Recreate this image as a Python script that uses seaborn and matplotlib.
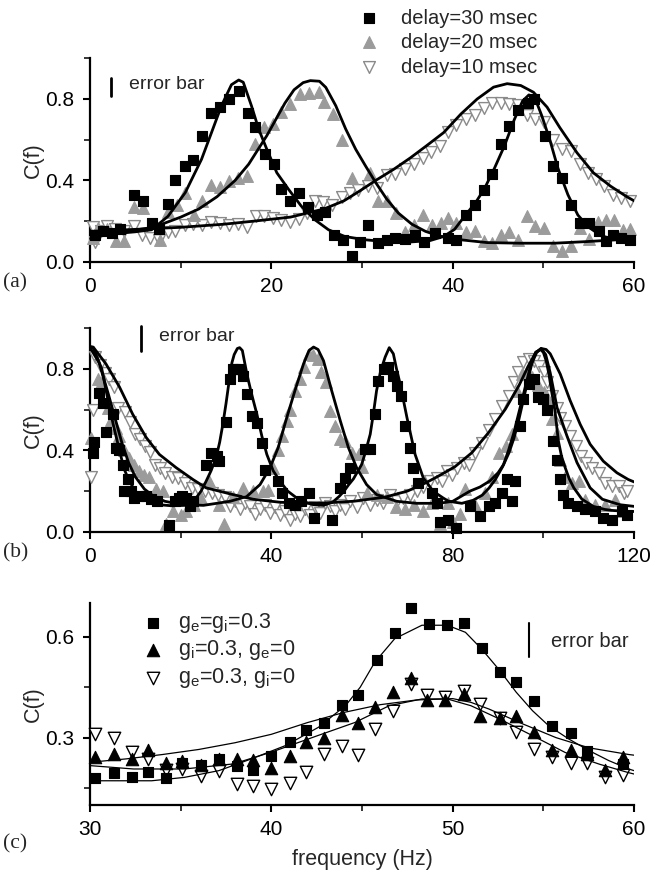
import matplotlib
matplotlib.use("Agg")
import matplotlib.pyplot as plt
import seaborn as sns
from matplotlib.ticker import MultipleLocator, FixedLocator

sns.set_theme(style="white")
plt.rcParams['font.family'] = ['Liberation Sans', 'DejaVu Sans']
plt.rcParams['mathtext.default'] = 'regular'

# ---------------- Panel (a) ----------------
a30_f = [0.5, 1.4, 2.4, 3.3, 4.8, 5.8, 6.8, 7.6, 8.6, 9.4, 10.5, 11.4, 12.4, 13.3, 14.3, 15.3, 16.4,
         17.4, 18.2, 19.3, 20.3, 21.1, 22.1, 23.1, 24.0, 25.0, 25.9, 26.9, 27.9, 28.9, 29.8, 30.7,
         31.8, 32.7, 33.6, 34.7, 35.8, 36.8, 38.0, 39.5, 40.4, 41.5, 42.5, 43.4, 44.3, 45.3, 46.2,
         47.2, 48.3, 49.0, 50.2, 51.1, 52.1, 53.0, 54.0, 55.0, 56.1, 56.9, 57.7, 58.6, 59.5]
a30_c = [0.13, 0.15, 0.14, 0.16, 0.33, 0.30, 0.19, 0.16, 0.285, 0.40, 0.47, 0.50, 0.62, 0.73, 0.76, 0.80, 0.84,
         0.73, 0.66, 0.53, 0.48, 0.36, 0.30, 0.34, 0.27, 0.23, 0.245, 0.13, 0.11, 0.03, 0.10, 0.18,
         0.095, 0.11, 0.12, 0.115, 0.13, 0.10, 0.14, 0.12, 0.11, 0.23, 0.28, 0.355, 0.43, 0.58, 0.665,
         0.745, 0.78, 0.80, 0.62, 0.47, 0.41, 0.28, 0.19, 0.19, 0.15, 0.105, 0.13, 0.12, 0.11]

a20_f = [0.3, 0.9, 1.9, 2.9, 3.8, 4.8, 5.8, 7.7, 8.6, 9.6, 10.5, 11.5, 12.4, 13.3, 14.3, 15.3, 16.3,
         17.3, 18.2, 19.2, 20.2, 21.1, 22.1, 23.2, 24.1, 25.2, 25.8, 26.8, 27.8, 28.9, 30.9, 31.8,
         32.7, 33.7, 34.7, 35.7, 36.7, 37.7, 38.7, 39.5, 40.4, 41.5, 42.5, 43.4, 44.3, 45.3, 46.2,
         47.2, 48.2, 49.1, 50.1, 51.1, 52.1, 53.0, 54.0, 55.0, 56.0, 56.9, 57.8, 58.8, 59.6]
a20_c = [0.12, 0.166, 0.16, 0.105, 0.105, 0.27, 0.265, 0.11, 0.243, 0.28, 0.336, 0.232, 0.30, 0.38, 0.37, 0.397, 0.41,
         0.42, 0.578, 0.663, 0.675, 0.734, 0.775, 0.825, 0.83, 0.835, 0.783, 0.726, 0.60, 0.413, 0.438, 0.298,
         0.30, 0.24, 0.145, 0.183, 0.229, 0.18, 0.19, 0.215, 0.19, 0.145, 0.15, 0.105, 0.092, 0.133, 0.145,
         0.11, 0.224, 0.175, 0.165, 0.076, 0.054, 0.076, 0.165, 0.115, 0.197, 0.205, 0.205, 0.158, 0.16]

a10_f = [0.3, 0.5, 1.2, 1.9, 2.8, 3.8, 4.8, 5.7, 6.6, 7.6, 8.6, 9.4, 10.5, 11.4, 12.4, 13.3, 14.3, 15.3,
         16.3, 17.3, 18.3, 19.2, 20.2, 21.1, 22.0, 23.0, 23.9, 24.8, 25.7, 26.7, 27.8, 28.7, 29.6, 30.7,
         31.7, 32.7, 33.6, 34.7, 35.7, 36.7, 37.6, 38.6, 39.5, 40.4, 41.5, 42.5, 43.4, 44.3, 45.3, 46.2,
         47.2, 48.2, 49.1, 50.1, 51.1, 52.1, 53.0, 54.0, 54.9, 55.8, 56.7, 57.7, 58.6, 59.5]
a10_c = [0.17, 0.10, 0.15, 0.175, 0.16, 0.15, 0.175, 0.13, 0.12, 0.11, 0.145, 0.15, 0.18, 0.185, 0.18, 0.196, 0.19, 0.18,
         0.185, 0.17, 0.225, 0.225, 0.215, 0.207, 0.198, 0.21, 0.238, 0.298, 0.295, 0.278, 0.32, 0.336, 0.352, 0.375,
         0.363, 0.428, 0.43, 0.454, 0.479, 0.51, 0.54, 0.57, 0.64, 0.67, 0.70, 0.72, 0.755, 0.78, 0.78, 0.777,
         0.77, 0.72, 0.70, 0.685, 0.60, 0.553, 0.545, 0.48, 0.438, 0.405, 0.372, 0.33, 0.315, 0.30]

fa30_f = [0, 3, 5, 6.8, 8.6, 10.5, 12.3, 13.4, 14.5, 15.6, 16.4, 16.9, 17.8, 18.6, 19.5, 20.6, 21.9, 23.3,
          24.8, 26.3, 28.1, 30.3, 32.5, 35, 37.5, 39.0, 40.2, 41.4, 42.5, 43.5, 44.6, 45.7, 46.8, 47.7,
          48.4, 49.1, 49.8, 50.7, 51.6, 52.7, 53.8, 55.0, 56.4, 57.9, 60]
fa30_c = [0.13, 0.14, 0.148, 0.158, 0.224, 0.34, 0.504, 0.635, 0.767, 0.87, 0.893, 0.882, 0.767, 0.652, 0.553, 0.438, 0.356, 0.274,
          0.207, 0.158, 0.125, 0.109, 0.10, 0.097, 0.105, 0.125, 0.16, 0.23, 0.29, 0.36, 0.46, 0.57, 0.70, 0.79,
          0.82, 0.80, 0.72, 0.60, 0.46, 0.33, 0.23, 0.17, 0.128, 0.11, 0.10]

fa20_f = [0, 4, 7, 10, 12, 14, 16, 17.5, 18.5, 19.5, 20.5, 21.5, 22.5, 23.5, 24.3, 25.3, 26.0, 27.1, 28.2,
          29.3, 30.4, 31.5, 32.7, 34.0, 35.5, 37.0, 38.5, 40.2, 43.8, 47.5, 51.2, 54.8, 58.5, 60]
fa20_c = [0.13, 0.15, 0.17, 0.22, 0.26, 0.32, 0.40, 0.48, 0.55, 0.62, 0.70, 0.78, 0.845, 0.88, 0.89, 0.887, 0.857, 0.767, 0.652,
          0.553, 0.47, 0.39, 0.31, 0.24, 0.185, 0.15, 0.128, 0.112, 0.095, 0.092, 0.092, 0.10, 0.11, 0.115]

fa10_f = [0, 5, 10, 14.7, 18, 22.1, 25.8, 28, 29.8, 31.5, 33.5, 35.3, 37.1, 39.0, 40.9, 42.7, 44.5, 46.0,
          47.5, 48.9, 50.4, 51.8, 53.7, 55.5, 57.4, 59.2, 60]
fa10_c = [0.15, 0.16, 0.17, 0.185, 0.20, 0.22, 0.26, 0.30, 0.35, 0.40, 0.455, 0.51, 0.57, 0.635, 0.726, 0.80, 0.858, 0.875,
          0.866, 0.833, 0.76, 0.66, 0.536, 0.438, 0.372, 0.32, 0.30]

legend_a = ['delay=30 msec', 'delay=20 msec', 'delay=10 msec']

# ---------------- Panel (b) ----------------
b30_f = [0.7, 0.9, 1.9, 2.8, 3.5, 5.0, 5.7, 6.4, 7.2, 8.3, 7.6, 9.0, 9.8, 10.8, 12.3, 13.5, 14.8, 17.4,
         18.8, 19.7, 20.2, 21.2, 22.0, 22.7, 25.6, 26.7, 28.1, 28.5, 30.0, 30.9, 31.5, 32.0, 33.1,
         33.8, 34.6, 35.7, 36.8, 37.9, 38.6, 41.5, 42.3, 43.9, 45.2, 46.5, 48.2, 49.3, 53.4, 55.2,
         56.3, 57.4, 60.7, 61.8, 62.9, 63.6, 64.8, 65.8, 66.9, 67.6, 68.5, 69.5, 70.6, 71.3, 72.4,
         75.4, 76.6, 77.1, 79.0, 80.8, 83.8, 86.0, 87.9, 89.4, 90.8, 92.0, 93.0, 93.8, 94.9, 95.6,
         96.8, 97.9, 98.8, 100.0, 100.7, 102.2, 103.0, 103.7, 104.4, 105.5, 107.3, 109.2, 111.4,
         113.2, 115.1, 117.3, 118.4]
b30_c = [0.389, 0.44, 0.68, 0.63, 0.49, 0.58, 0.41, 0.40, 0.33, 0.257, 0.20, 0.20, 0.166, 0.175, 0.175, 0.16, 0.15, 0.035,
         0.15, 0.166, 0.175, 0.166, 0.125, 0.15, 0.33, 0.389, 0.37, 0.35, 0.537, 0.75, 0.80, 0.80, 0.80,
         0.767, 0.677, 0.57, 0.535, 0.438, 0.306, 0.248, 0.19, 0.14, 0.13, 0.15, 0.19, 0.068, 0.06, 0.216,
         0.265, 0.315, 0.405, 0.405, 0.578, 0.742, 0.80, 0.81, 0.767, 0.717, 0.668, 0.52, 0.413, 0.315, 0.24,
         0.19, 0.14, 0.05, 0.058, 0.018, 0.125, 0.076, 0.125, 0.14, 0.19, 0.257, 0.15, 0.248, 0.52, 0.65,
         0.726, 0.75, 0.66, 0.65, 0.60, 0.446, 0.355, 0.257, 0.183, 0.14, 0.125, 0.11, 0.10,
         0.068, 0.06, 0.10, 0.085]

b20_f = [0.2, 1.7, 2.4, 3.9, 4.6, 5.7, 6.4, 7.5, 8.6, 9.8, 10.8, 11.9, 13.0, 14.5, 16.0, 16.8, 18.2,
         20.0, 21.2, 23.0, 24.5, 26.3, 28.5, 29.5, 31.5, 33.8, 36.0, 38.2, 39.3, 40.4, 41.5, 42.3,
         43.4, 44.1, 45.2, 46.3, 47.2, 48.2, 49.1, 50.2, 50.9, 52.1, 53.0, 54.1, 55.2, 56.3, 57.8,
         59.3, 60.0, 61.2, 63.4, 65.6, 67.5, 69.5, 71.5, 73.5, 75.5, 77.2, 79.0, 80.1, 81.6, 82.8,
         85.0, 87.2, 88.7, 90.2, 91.7, 93.1, 94.2, 95.3, 96.4, 97.5, 98.7, 100.1, 101.2, 101.9,
         103.0, 103.7, 104.8, 106.3, 107.8, 109.2, 111.4, 113.6, 115.8, 117.3]
b20_c = [0.463, 0.75, 0.73, 0.61, 0.55, 0.51, 0.47, 0.40, 0.36, 0.33, 0.30, 0.28, 0.27, 0.21, 0.20, 0.04, 0.10,
         0.083, 0.10, 0.13, 0.166, 0.248, 0.133, 0.04, 0.17, 0.216, 0.20, 0.20, 0.207, 0.315, 0.40, 0.47,
         0.545, 0.60, 0.69, 0.75, 0.81, 0.875, 0.866, 0.85, 0.784, 0.734, 0.595, 0.52, 0.454, 0.446, 0.388,
         0.38, 0.32, 0.19, 0.18, 0.17, 0.12, 0.11, 0.13, 0.10, 0.14, 0.04, 0.14, 0.05, 0.09, 0.21,
         0.13, 0.19, 0.27, 0.388, 0.42, 0.48, 0.69, 0.775, 0.79, 0.76, 0.72, 0.686, 0.636, 0.553,
         0.487, 0.355, 0.27, 0.24, 0.25, 0.157, 0.13, 0.13, 0.157, 0.10]

b10_f = [0.2, 0.6, 1.2, 2.1, 3.2, 4.3, 5.4, 6.2, 7.7, 8.8, 9.9, 11.0, 12.1, 13.2, 14.3, 15.4, 16.6, 18.0,
         19.5, 21.0, 22.4, 23.9, 25.4, 26.9, 28.3, 29.8, 30.9, 32.0, 33.1, 34.2, 35.3, 36.4, 37.5, 38.6,
         39.7, 40.8, 41.9, 43.0, 44.1, 45.2, 46.3, 47.4, 48.5, 49.6, 50.7, 51.8, 52.9, 54.0, 55.2, 56.3,
         57.4, 58.8, 60.3, 61.7, 63.2, 64.7, 66.2, 67.6, 69.1, 70.6, 72.1, 73.5, 75.0, 76.5, 77.6, 78.7,
         79.8, 80.9, 82.4, 83.6, 84.9, 86.4, 87.9, 89.4, 90.8, 92.3, 93.4, 94.5, 95.6, 96.8, 97.9, 99.0,
         100.1, 100.8, 101.9, 103.0, 103.7, 104.8, 105.9, 107.1, 108.2, 109.3, 110.7, 112.2, 113.6,
         115.1, 116.6, 117.7, 118.5]
b10_c = [0.27, 0.60, 0.86, 0.82, 0.78, 0.75, 0.71, 0.61, 0.59, 0.54, 0.48, 0.455, 0.42, 0.39, 0.33, 0.315, 0.29, 0.27,
         0.265, 0.24, 0.215, 0.21, 0.20, 0.19, 0.18, 0.17, 0.125, 0.15, 0.11, 0.14, 0.125, 0.09, 0.11, 0.13,
         0.094, 0.12, 0.085, 0.10, 0.06, 0.09, 0.077, 0.11, 0.085, 0.12, 0.094, 0.14, 0.125, 0.10, 0.133, 0.11,
         0.15, 0.12, 0.166, 0.13, 0.158, 0.14, 0.183, 0.15, 0.166, 0.18, 0.20, 0.22, 0.248, 0.265, 0.25, 0.30,
         0.28, 0.315, 0.34, 0.33, 0.389, 0.438, 0.50, 0.553, 0.62, 0.668, 0.734, 0.784, 0.833, 0.85, 0.84, 0.816,
         0.784, 0.734, 0.668, 0.61, 0.56, 0.52, 0.47, 0.42, 0.372, 0.34, 0.315, 0.29, 0.24,
         0.224, 0.224, 0.19, 0.20]

fb30_f = [0, 0.7, 2.6, 4.3, 5.2, 6.5, 7.5, 8.7, 10, 11.6, 13.5, 15.3, 18, 21, 23.2, 24.5, 25.6, 26.7,
          27.8, 28.6, 29.3, 30.0, 30.7, 31.3, 31.8, 32.5, 33.0, 33.6, 34.6, 35.6, 36.8, 37.9, 39.0,
          40.4, 41.9, 43.6, 45.6, 47.5, 49.3, 51.5, 53.5, 55.0, 56.0, 57.0, 58.1, 59.9, 60.7, 61.8,
          62.5, 63.2, 64.1, 65.1, 66.0, 66.9, 67.6, 68.4, 69.9, 71.7, 73.5, 75.7, 77.9, 79.1, 82.0,
          84.5, 86.5, 88.0, 89.4, 91.0, 92.4, 93.5, 94.6, 95.7, 96.8, 97.6, 98.3, 99.4, 100.0, 100.6,
          101.2, 101.8, 102.5, 103.3, 104.0, 104.8, 105.7, 106.7, 108.5, 111.0, 113.5, 115.2, 118.8, 120]
fb30_c = [0.90, 0.905, 0.80, 0.61, 0.52, 0.40, 0.31, 0.248, 0.20, 0.166, 0.145, 0.133, 0.128, 0.13, 0.16, 0.20, 0.248, 0.30,
          0.364, 0.44, 0.528, 0.63, 0.742, 0.83, 0.87, 0.90, 0.904, 0.89, 0.775, 0.68, 0.578, 0.47, 0.38,
          0.30, 0.248, 0.20, 0.166, 0.145, 0.133, 0.13, 0.145, 0.175, 0.199, 0.23, 0.26, 0.33, 0.388, 0.479,
          0.58, 0.693, 0.79, 0.858, 0.904, 0.874, 0.80, 0.726, 0.561, 0.38, 0.265, 0.199, 0.166, 0.15, 0.14,
          0.155, 0.18, 0.215, 0.257, 0.32, 0.388, 0.46, 0.553, 0.66, 0.767, 0.84, 0.882, 0.895, 0.88, 0.84,
          0.775, 0.69, 0.60, 0.446, 0.37, 0.315, 0.26, 0.216, 0.16, 0.125, 0.11, 0.105, 0.10, 0.10]

fb20_f = [0, 2, 4, 5.5, 7, 8.5, 10, 12, 14, 16.5, 20, 25, 30.9, 34.6, 37.5, 39.7, 41.5, 43.4, 45.2, 47.1,
          48.3, 49.3, 50.3, 51.5, 53.3, 55.2, 57.0, 58.8, 61.0, 63.2, 67.6, 72, 77, 80, 83.8, 86.0,
          88.2, 90.0, 91.2, 92.3, 93.4, 94.3, 95.2, 96.2, 97.1, 98.5, 99.5, 100.5, 101.5, 103, 105.2,
          107.4, 110.3, 113, 116.9, 120]
fb20_c = [0.905, 0.83, 0.68, 0.56, 0.44, 0.34, 0.27, 0.21, 0.175, 0.15, 0.135, 0.13, 0.15, 0.174, 0.232, 0.315, 0.413, 0.561, 0.693, 0.825,
          0.89, 0.907, 0.895, 0.84, 0.693, 0.545, 0.413, 0.315, 0.232, 0.183, 0.15, 0.14, 0.14, 0.15, 0.20, 0.22,
          0.25, 0.29, 0.33, 0.40, 0.48, 0.56, 0.64, 0.73, 0.81, 0.88, 0.90, 0.87, 0.78, 0.61, 0.47,
          0.34, 0.216, 0.16, 0.133, 0.125]

fb10_f = [0, 0.7, 3.5, 6.5, 9.4, 12.4, 15.3, 19.0, 22.7, 25.6, 31.5, 36, 42, 50, 58, 65, 70, 74, 76.8,
          80.5, 84.2, 87.9, 91.6, 94.6, 96.8, 98.3, 99.5, 100.6, 101.5, 103.7, 105.9, 108.1, 110.3,
          113.2, 116.2, 118.7, 120]
fb10_c = [0.91, 0.907, 0.825, 0.711, 0.578, 0.463, 0.38, 0.315, 0.257, 0.216, 0.183, 0.16, 0.145, 0.14, 0.15, 0.17, 0.20, 0.24, 0.273,
          0.32, 0.388, 0.487, 0.602, 0.718, 0.82, 0.88, 0.90, 0.895, 0.874, 0.775, 0.644, 0.528, 0.43,
          0.347, 0.29, 0.257, 0.245]

# ---------------- Panel (c) ----------------
c1_f = [30.3, 31.3, 32.3, 33.2, 34.2, 35.1, 36.1, 37.1, 38.1, 39.0, 40.0, 41.0, 41.9, 42.9, 43.9, 44.8,
        45.8, 46.8, 47.7, 48.7, 49.7, 50.6, 51.6, 52.6, 53.5, 54.5, 55.5, 56.5, 57.4, 59.4]
c1_c = [0.179, 0.195, 0.182, 0.197, 0.179, 0.225, 0.22, 0.236, 0.217, 0.203, 0.246, 0.287, 0.323, 0.343, 0.398, 0.427,
        0.532, 0.611, 0.686, 0.637, 0.634, 0.642, 0.565, 0.495, 0.466, 0.41, 0.334, 0.315, 0.261, 0.222]

c2_f = [30.3, 31.3, 32.3, 33.2, 34.2, 35.1, 36.1, 37.1, 38.1, 39.0, 40.0, 41.0, 41.9, 42.9, 43.9, 44.8,
        45.7, 46.7, 47.7, 48.6, 49.6, 50.6, 51.5, 52.6, 53.5, 54.5, 55.5, 56.5, 57.4, 58.4, 59.4]
c2_c = [0.242, 0.252, 0.238, 0.264, 0.225, 0.230, 0.220, 0.238, 0.236, 0.233, 0.210, 0.247, 0.286, 0.300, 0.367, 0.345,
        0.392, 0.437, 0.477, 0.413, 0.413, 0.430, 0.365, 0.357, 0.365, 0.318, 0.264, 0.262, 0.251, 0.205, 0.244]

c3_f = [30.3, 31.3, 32.3, 33.2, 34.2, 35.1, 36.1, 37.1, 38.1, 39.0, 40.0, 41.0, 41.9, 42.9, 43.9, 44.8,
        45.7, 46.7, 47.7, 48.6, 49.6, 50.6, 51.5, 52.6, 53.5, 54.5, 55.5, 56.5, 57.4, 58.4, 59.4]
c3_c = [0.311, 0.298, 0.256, 0.238, 0.205, 0.207, 0.185, 0.202, 0.162, 0.157, 0.147, 0.165, 0.199, 0.251, 0.276, 0.249,
        0.326, 0.38, 0.459, 0.427, 0.42, 0.44, 0.40, 0.357, 0.318, 0.267, 0.244, 0.224, 0.224, 0.183, 0.188]

fc1_f = [30, 33.4, 35.2, 37.1, 38.9, 40.8, 42.6, 44.1, 44.9, 45.7, 46.8, 48.3, 49.7, 50.7, 51.6, 52.6,
         53.5, 54.4, 55.3, 56.4, 57.5, 58.6, 59.7, 60]
fc1_c = [0.172, 0.172, 0.182, 0.202, 0.237, 0.277, 0.331, 0.396, 0.45, 0.524, 0.594, 0.634, 0.634, 0.613, 0.563, 0.499,
         0.435, 0.38, 0.335, 0.296, 0.262, 0.232, 0.207, 0.202]

fc2_f = [30, 32, 34, 36, 38, 40, 42, 44, 46, 48, 50, 51, 52, 53.9, 55.7, 57.5, 59.7, 60]
fc2_c = [0.227, 0.237, 0.25, 0.265, 0.285, 0.31, 0.345, 0.375, 0.398, 0.412, 0.416, 0.405, 0.385, 0.34, 0.30, 0.27, 0.25, 0.248]

fc3_f = [30, 32.4, 35.2, 37.9, 40, 42.6, 44.6, 46.5, 48.3, 49.7, 51, 52.6, 54.4, 56.2, 58.1, 59.7, 60]
fc3_c = [0.217, 0.207, 0.207, 0.222, 0.257, 0.307, 0.345, 0.395, 0.415, 0.415, 0.395, 0.355, 0.306, 0.256, 0.221, 0.196, 0.192]

legend_c = ['g$_e$=g$_i$=0.3', 'g$_i$=0.3, g$_e$=0', 'g$_e$=0.3, g$_i$=0']

GRAY = '#9b9b9b'
OPEN_EDGE = '#8a8a8a'
FS = 14.5

fig = plt.figure(figsize=(6.54, 8.82), dpi=100)
axa = fig.add_axes([0.1376, 0.703, 0.832, 0.231])
axb = fig.add_axes([0.1376, 0.397, 0.832, 0.231])
axc = fig.add_axes([0.1376, 0.0873, 0.832, 0.229])


def style_axis(ax):
    sns.despine(ax=ax)
    ax.set_facecolor('white')
    for s in ['left', 'bottom']:
        ax.spines[s].set_linewidth(1.6)
        ax.spines[s].set_color('black')
    ax.tick_params(which='major', direction='out', length=5, width=1.5, labelsize=15, colors='black',
                   left=True, bottom=True)
    ax.tick_params(axis='x', which='major', pad=6)
    ax.tick_params(axis='y', which='major', pad=6)
    ax.tick_params(which='minor', direction='out', length=4.5, width=1.3, left=True, bottom=True)
    ax.grid(False)


def scatter_series(ax, f, c, marker, face, edge, size, lw=0.8):
    sns.scatterplot(x=f, y=c, ax=ax, marker=marker, s=size, color=face, edgecolor=edge,
                    linewidth=lw, zorder=3, legend=False, clip_on=False)


def fit_line(ax, f, c, lw):
    sns.lineplot(x=f, y=c, ax=ax, color='black', linewidth=lw, sort=False, estimator=None, zorder=4)


SQ, TR = 50, 72

# panel a
scatter_series(axa, a10_f, a10_c, 'v', 'white', OPEN_EDGE, TR, 1.0)
scatter_series(axa, a20_f, a20_c, '^', GRAY, GRAY, TR)
scatter_series(axa, a30_f, a30_c, 's', 'black', 'black', SQ)
for f, c in [(fa30_f, fa30_c), (fa20_f, fa20_c), (fa10_f, fa10_c)]:
    fit_line(axa, f, c, 2.0)
axa.set_xlim(0, 60)
axa.set_ylim(0, 1.0)
axa.xaxis.set_major_locator(MultipleLocator(20))
axa.xaxis.set_minor_locator(MultipleLocator(10))
axa.yaxis.set_major_locator(FixedLocator([0.0, 0.4, 0.8]))
axa.yaxis.set_minor_locator(FixedLocator([0.2, 0.6, 1.0]))
axa.yaxis.set_major_formatter(matplotlib.ticker.FormatStrFormatter('%.1f'))
style_axis(axa)

# legend for panel a
leg_y = [1.196, 1.078, 0.956]
specs_a = [('s', 'black', 'black', SQ, 0.8), ('^', GRAY, GRAY, TR, 0.8), ('v', 'white', OPEN_EDGE, TR, 1.0)]
for (m, fc, ec, s, lw), lab, yy in zip(specs_a, legend_a, leg_y):
    axa.scatter([0.513], [yy], transform=axa.transAxes, marker=m, s=s, c=fc, edgecolors=ec,
                linewidths=lw, clip_on=False, zorder=5)
    axa.text(0.572, yy, lab, transform=axa.transAxes, fontsize=FS, va='center', ha='left')
axa.plot([0.038, 0.038], [0.815, 0.905], transform=axa.transAxes, color='black', lw=2, clip_on=False)
axa.text(0.071, 0.873, 'error bar', transform=axa.transAxes, fontsize=FS - 0.5, va='center', ha='left')

# panel b
scatter_series(axb, b10_f, b10_c, 'v', 'white', OPEN_EDGE, TR, 1.0)
scatter_series(axb, b20_f, b20_c, '^', GRAY, GRAY, TR)
scatter_series(axb, b30_f, b30_c, 's', 'black', 'black', SQ)
for f, c in [(fb30_f, fb30_c), (fb20_f, fb20_c), (fb10_f, fb10_c)]:
    fit_line(axb, f, c, 2.0)
axb.set_xlim(0, 120)
axb.set_ylim(0, 1.0)
axb.xaxis.set_major_locator(MultipleLocator(40))
axb.xaxis.set_minor_locator(MultipleLocator(20))
axb.yaxis.set_major_locator(FixedLocator([0.0, 0.4, 0.8]))
axb.yaxis.set_minor_locator(FixedLocator([0.2, 0.6, 1.0]))
axb.yaxis.set_major_formatter(matplotlib.ticker.FormatStrFormatter('%.1f'))
style_axis(axb)
axb.plot([0.093, 0.093], [0.89, 1.01], transform=axb.transAxes, color='black', lw=2, clip_on=False)
axb.text(0.126, 0.96, 'error bar', transform=axb.transAxes, fontsize=FS - 0.5, va='center', ha='left')

# panel c
scatter_series(axc, c3_f, c3_c, 'v', 'white', 'black', 80, 1.0)
scatter_series(axc, c2_f, c2_c, '^', 'black', 'black', 80)
scatter_series(axc, c1_f, c1_c, 's', 'black', 'black', 58)
for f, c in [(fc1_f, fc1_c), (fc2_f, fc2_c), (fc3_f, fc3_c)]:
    fit_line(axc, f, c, 0.9)
axc.set_xlim(30, 60)
axc.set_ylim(0.1, 0.7)
axc.xaxis.set_major_locator(MultipleLocator(10))
axc.xaxis.set_minor_locator(MultipleLocator(5))
axc.yaxis.set_major_locator(FixedLocator([0.3, 0.6]))
axc.yaxis.set_minor_locator(FixedLocator([0.15, 0.45]))
axc.yaxis.set_major_formatter(matplotlib.ticker.FormatStrFormatter('%.1f'))
style_axis(axc)
axc.set_xlabel('frequency (Hz)', fontsize=FS + 1, labelpad=7)

leg_yc = [0.90, 0.765, 0.627]
specs_c = [('s', 'black', 'black', 58, 0.8), ('^', 'black', 'black', 80, 0.8), ('v', 'white', 'black', 80, 1.0)]
for (m, fc, ec, s, lw), lab, yy in zip(specs_c, legend_c, leg_yc):
    axc.scatter([0.116], [yy], transform=axc.transAxes, marker=m, s=s, c=fc, edgecolors=ec,
                linewidths=lw, clip_on=False, zorder=5)
    axc.text(0.162, yy, lab, transform=axc.transAxes, fontsize=FS + 1, va='center', ha='left')
axc.plot([0.807, 0.807], [0.734, 0.90], transform=axc.transAxes, color='black', lw=1.5, clip_on=False)
axc.text(0.847, 0.808, 'error bar', transform=axc.transAxes, fontsize=FS, va='center', ha='left')

for ax in (axa, axb, axc):
    ax.set_ylabel('C(f)', fontsize=FS + 1)
    ax.yaxis.set_label_coords(-0.085, 0.5)

serif = ['Liberation Serif', 'DejaVu Serif']
fig.text(0.004, 1 - 283 / 882, '(a)', fontsize=FS + 1, family=serif, va='center', ha='left')
fig.text(0.004, 1 - 553 / 882, '(b)', fontsize=FS + 1, family=serif, va='center', ha='left')
fig.text(0.004, 1 - 844 / 882, '(c)', fontsize=FS + 1, family=serif, va='center', ha='left')

fig.savefig('out.png', dpi=100, facecolor='white')
